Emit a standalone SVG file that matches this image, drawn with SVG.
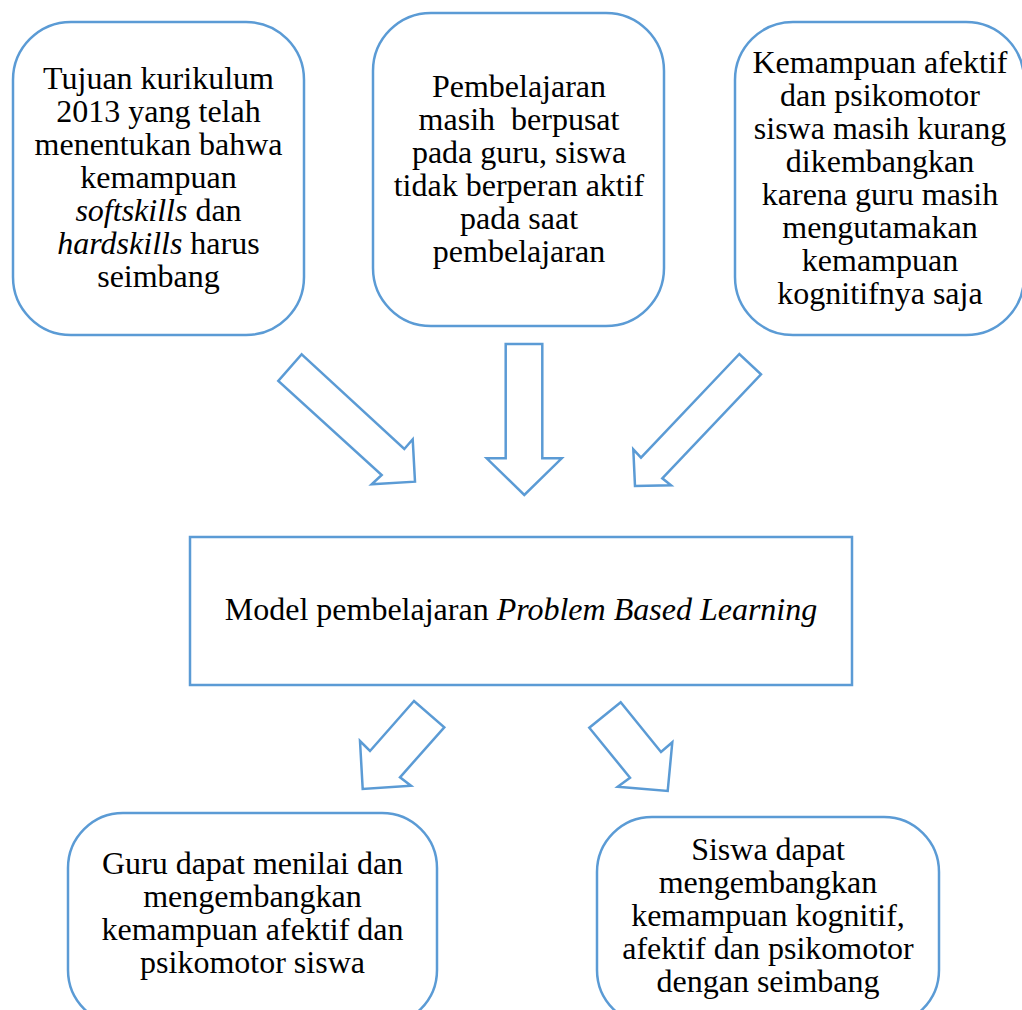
<svg xmlns="http://www.w3.org/2000/svg" width="1022" height="1010" viewBox="0 0 1022 1010">
<style>
.box{fill:#ffffff;stroke:#5B9BD5;stroke-width:2.5}
.arr{fill:#ffffff;stroke:#5B9BD5;stroke-width:2.5;stroke-linejoin:miter}
text{font-family:"Liberation Serif","Times New Roman",serif;font-size:32px;fill:#000;text-anchor:middle}
.i{font-style:italic}
</style>
<rect width="1022" height="1010" fill="#ffffff"/>
<g id="connectors">
<polygon class="arr" points="301.7,354.3 404.3,449 412.7,439.3 415,481.7 371.7,484.3 381.7,475 278.3,381"/>
<polygon class="arr" points="505.7,344 542.3,344 542.3,458.3 561.7,458.3 524.3,495 486.7,458.3 505.7,458.3"/>
<polygon class="arr" points="739.3,354 641,457.7 633.3,449.3 635,486 671,485.3 662.3,478.3 761,374.3"/>
<polygon class="arr" points="414,701 370,751 360,741 362.7,789 411,785.7 400,777.3 444.3,727.3"/>
<polygon class="arr" points="620.7,702.3 661,752 672.3,742.3 667.7,791 617.7,786.7 630,777.7 589.3,727.7"/>
</g>
<g id="node1">
<rect class="box" x="13" y="22" width="291" height="313" rx="58" ry="58"/>
<text x="158.5" y="89">Tujuan kurikulum</text>
<text x="158.5" y="122">2013 yang telah</text>
<text x="158.5" y="155">menentukan bahwa</text>
<text x="158.5" y="188">kemampuan</text>
<text x="158.5" y="221"><tspan class="i">softskills</tspan> dan</text>
<text x="158.5" y="254"><tspan class="i">hardskills</tspan> harus</text>
<text x="158.5" y="287">seimbang</text>
</g>
<g id="node2">
<rect class="box" x="373" y="13" width="291" height="313" rx="58" ry="58"/>
<text x="519" y="97">Pembelajaran</text>
<text x="519" y="130">masih&#160; berpusat</text>
<text x="519" y="163">pada guru, siswa</text>
<text x="519" y="196">tidak berperan aktif</text>
<text x="519" y="229">pada saat</text>
<text x="519" y="262">pembelajaran</text>
</g>
<g id="node3">
<rect class="box" x="735" y="22" width="289" height="313" rx="58" ry="58"/>
<text x="880" y="73">Kemampuan afektif</text>
<text x="880" y="106">dan psikomotor</text>
<text x="880" y="139">siswa masih kurang</text>
<text x="880" y="172">dikembangkan</text>
<text x="880" y="205">karena guru masih</text>
<text x="880" y="238">mengutamakan</text>
<text x="880" y="271">kemampuan</text>
<text x="880" y="304">kognitifnya saja</text>
</g>
<g id="node4">
<rect class="box" x="190" y="537" width="662" height="148"/>
<text x="521" y="620">Model pembelajaran <tspan class="i">Problem Based Learning</tspan></text>
</g>
<g id="node5">
<rect class="box" x="68" y="813" width="369" height="212" rx="55" ry="55"/>
<text x="252.5" y="874">Guru dapat menilai dan</text>
<text x="252.5" y="907">mengembangkan</text>
<text x="252.5" y="940">kemampuan afektif dan</text>
<text x="252.5" y="973">psikomotor siswa</text>
</g>
<g id="node6">
<rect class="box" x="597" y="817" width="342" height="208" rx="55" ry="55"/>
<text x="768" y="860">Siswa dapat</text>
<text x="768" y="893">mengembangkan</text>
<text x="768" y="926">kemampuan kognitif,</text>
<text x="768" y="959">afektif dan psikomotor</text>
<text x="768" y="992">dengan seimbang</text>
</g>
</svg>
